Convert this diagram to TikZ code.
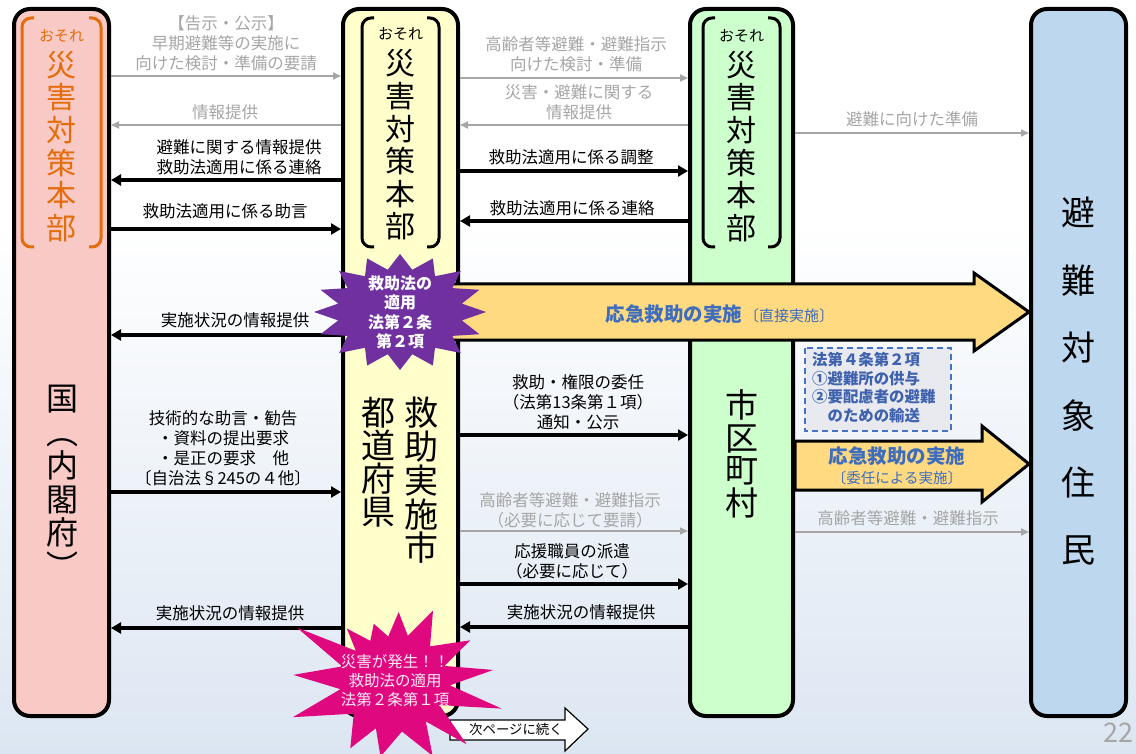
\documentclass[tikz,border=0pt]{standalone}
\usepackage{fontspec}
\setmainfont{Noto Sans CJK JP}
\usetikzlibrary{arrows.meta}
\definecolor{pinkc}{HTML}{F9C9C6}
\definecolor{yellc}{HTML}{FFFFCC}
\definecolor{greenc}{HTML}{CCFFCC}
\definecolor{bluec}{HTML}{BDD7EE}
\definecolor{orgc}{HTML}{E46C0A}
\definecolor{grayc}{HTML}{A6A6A6}
\definecolor{arrowy}{HTML}{FFDA80}
\definecolor{txtblue}{HTML}{3F6DBE}
\definecolor{boxblue}{HTML}{3F62AE}
\definecolor{dashblue}{HTML}{4472C4}
\definecolor{boxfill}{HTML}{E8EAEF}
\definecolor{purp}{HTML}{7030A0}
\definecolor{mag}{HTML}{E0087F}
\definecolor{bgblue}{HTML}{DCE6F2}
\begin{document}
\begin{tikzpicture}[x=1pt,y=-1pt,
  col/.style={draw=black, line width=4pt, rounded corners=16pt, inner sep=0pt},
  blk/.style={draw=black, line width=3.2pt, -{Triangle[length=10pt,width=11pt]}},
  gry/.style={draw=grayc, line width=1.8pt, -{Triangle[length=8pt,width=7pt]}},
  lbl/.style={font=\fontsize{16.5}{20}\selectfont, align=center, inner sep=0pt},
  lblg/.style={lbl, text=grayc},
  brk/.style={line width=3pt, rounded corners=9pt},
  vtxt/.style={align=center, inner sep=0pt},
  osore/.style={font=\fontsize{15}{15}\selectfont, inner sep=0pt},
  hq/.style={vtxt, font=\fontsize{30}{32.6}\selectfont},
  bigarrow/.style={fill=arrowy, draw=black, line width=3pt, line join=miter},
]
\useasboundingbox (0,0) rectangle (1136,754);
\begin{scope}
\clip (0,0) rectangle (1136,754);
\fill[white] (0,0) rectangle (1136,754);
\shade[top color=white, bottom color=bgblue] (0,220) rectangle (1136,754);

% columns
\node[col, fill=pinkc, minimum width=95pt, minimum height=707pt] (kuni) at (61.5,362.5) {};
\node[col, fill=yellc, minimum width=115pt, minimum height=707pt] (pref) at (400.5,362.5) {};
\node[col, fill=greenc, minimum width=103pt, minimum height=707pt] (muni) at (741.5,362.5) {};
\node[col, fill=bluec, minimum width=95pt, minimum height=707pt] (res) at (1078.5,362.5) {};

% brackets
\draw[brk, orgc] (34,18) -- (22,18) -- (22,247) -- (34,247);
\draw[brk, orgc] (89,18) -- (101,18) -- (101,247) -- (89,247);
\draw[brk] (374,18) -- (362,18) -- (362,247) -- (374,247);
\draw[brk] (427,18) -- (439,18) -- (439,247) -- (427,247);
\draw[brk] (715,18) -- (703,18) -- (703,247) -- (715,247);
\draw[brk] (768,18) -- (780,18) -- (780,247) -- (768,247);

% column texts
\node[osore, text=orgc] (os1) at (61.5,36) {おそれ};
\node[hq, text=orgc] (hq1) at (61.5,146.5) {災\\害\\対\\策\\本\\部};
\node[osore] (os2) at (400.5,34) {おそれ};
\node[hq] (hq2) at (400.5,145) {災\\害\\対\\策\\本\\部};
\node[osore] (os3) at (741.5,36) {おそれ};
\node[hq] (hq3) at (741.5,146.5) {災\\害\\対\\策\\本\\部};
\node[vtxt, font=\fontsize{32}{33.5}\selectfont] (kunitxt) at (62,482) {国\\︵\\内\\閣\\府\\︶};
\node[vtxt, font=\fontsize{34}{33}\selectfont] (todo) at (378,462.5) {都\\道\\府\\県};
\node[vtxt, font=\fontsize{34}{33.7}\selectfont] (kyujo) at (421,480.5) {救\\助\\実\\施\\市};
\node[vtxt, font=\fontsize{33}{32.7}\selectfont] (shiku) at (741.5,454) {市\\区\\町\\村};
\node[vtxt, font=\fontsize{34}{67.4}\selectfont] (jumin) at (1078.5,381.5) {避\\難\\対\\象\\住\\民};

% arrows: kuni <-> pref
\draw[gry] (kuni.east |- 0,76) -- (pref.west |- 0,76);
\node[lblg] (a1) at (226,43) {【告示・公示】\\早期避難等の実施に\\向けた検討・準備の要請};
\draw[gry] (pref.west |- 0,125) -- (kuni.east |- 0,125);
\node[lblg] (a2) at (225,112) {情報提供};
\draw[blk] (pref.west |- 0,180) -- (kuni.east |- 0,180);
\node[lbl] (a3) at (239,157) {避難に関する情報提供\\救助法適用に係る連絡};
\draw[blk] (kuni.east |- 0,229) -- (pref.west |- 0,229);
\node[lbl] (a4) at (225,211) {救助法適用に係る助言};
\draw[blk] (pref.west |- 0,335) -- (kuni.east |- 0,335);
\node[lbl] (a5) at (235,320) {実施状況の情報提供};
\draw[blk] (kuni.east |- 0,492) -- (pref.west |- 0,492);
\node[lbl] (a6) at (223,448) {技術的な助言・勧告\\・資料の提出要求\\・是正の要求\quad 他\\〔自治法§245の４他〕};
\draw[blk] (pref.west |- 0,628) -- (kuni.east |- 0,628);
\node[lbl] (a7) at (230,613) {実施状況の情報提供};

% arrows: pref <-> muni
\draw[gry] (pref.east |- 0,78) -- (muni.west |- 0,78);
\node[lblg] (b1) at (576,54) {高齢者等避難・避難指示\\向けた検討・準備};
\draw[gry] (muni.west |- 0,125) -- (pref.east |- 0,125);
\node[lblg] (b2) at (579,102) {災害・避難に関する\\情報提供};
\draw[blk] (pref.east |- 0,171) -- (muni.west |- 0,171);
\node[lbl] (b3) at (571,157) {救助法適用に係る調整};
\draw[blk] (muni.west |- 0,221) -- (pref.east |- 0,221);
\node[lbl] (b4) at (572,208) {救助法適用に係る連絡};
\draw[blk] (pref.east |- 0,435) -- (muni.west |- 0,435);
\node[lbl] (b5) at (578,402) {救助・権限の委任\\（法第13条第１項）\\通知・公示};
\draw[gry] (pref.east |- 0,531) -- (muni.west |- 0,531);
\node[lblg] (b6) at (570,510) {高齢者等避難・避難指示\\（必要に応じて要請）};
\draw[blk] (pref.east |- 0,584) -- (muni.west |- 0,584);
\node[lbl] (b7) at (572,561) {応援職員の派遣\\（必要に応じて）};
\draw[blk] (muni.west |- 0,627) -- (pref.east |- 0,627);
\node[lbl] (b8) at (581,612) {実施状況の情報提供};

% arrows: muni -> res
\draw[gry] (muni.east |- 0,133) -- (res.west |- 0,133);
\node[lblg] (c1) at (912,119) {避難に向けた準備};
\draw[gry] (muni.east |- 0,532) -- (res.west |- 0,532);
\node[lblg] (c2) at (908,518) {高齢者等避難・避難指示};

% big yellow arrows
\draw[bigarrow] (445,284) -- (974,284) -- (974,273) -- (res.west |- 0,312) -- (974,351) -- (974,340) -- (445,340) -- cycle;
\node[inner sep=0pt, text=txtblue] (big1) at (720,314) {{\fontsize{19.5}{20}\selectfont\bfseries 応急救助の実施}\,{\fontsize{15}{16}\selectfont 〔直接実施〕}};
\draw[bigarrow] (muni.east |- 0,441) -- (982,441) -- (982,426) -- (res.west |- 0,464) -- (982,502) -- (982,490) -- (muni.east |- 0,490) -- cycle;
\node[inner sep=0pt, text=txtblue, font=\fontsize{19.5}{22}\selectfont\bfseries] (big2) at (897,456) {応急救助の実施};
\node[inner sep=0pt, text=txtblue, font=\fontsize{14.5}{16}\selectfont] (big2b) at (897,478) {〔委任による実施〕};

% dashed box
\draw[dashblue, line width=2.2pt, dash pattern=on 6pt off 4pt, fill=boxfill] (805,348) rectangle (951,431);
\node[anchor=north west, align=left, inner sep=0pt, text=boxblue, font=\fontsize{15.4}{18.5}\selectfont\bfseries] (box) at (812,352) {法第４条第２項\\①避難所の供与\\②要配慮者の避難\\\hspace*{1em}のための輸送};

% purple star
\begin{scope}[shift={(400,312)}]
\fill[purp] (0:86 and 58) \foreach \k in {0,...,15}{ -- ({\k*22.5+11.25}:63 and 43) -- ({(\k+1)*22.5}:86 and 58)} -- cycle;
\end{scope}
\node[vtxt, text=white, font=\fontsize{16}{19.5}\selectfont\bfseries] (pstar) at (400,312.5) {救助法の\\適用\\法第２条\\第２項};

% next page arrow
\draw[fill=white, line width=1.2pt] (450,720) -- (565,720) -- (565,708) -- (588,729) -- (565,751) -- (565,740) -- (450,740) -- cycle;
\node[inner sep=0pt, font=\fontsize{13.4}{14}\selectfont] (next) at (516,729) {次ページに続く};

% magenta star
\begin{scope}[shift={(395,682)}]
\fill[mag] (14:110) -- (27.5:50) -- (41:95) -- (52:50) -- (63:83) -- (82:50) -- (101:76) -- (112.5:50) -- (124:80) -- (142.5:52) -- (161:108) -- (172.5:55) -- (184:102) -- (196.5:55) -- (209:112) -- (218.5:50) -- (228:72) -- (239:48) -- (250:62) -- (261.5:46) -- (273:70) -- (285.5:48) -- (298:81) -- (314.5:50) -- (331:86) -- (342:52) -- (353:99) -- (3.5:55) -- cycle;
\end{scope}
\node[vtxt, text=white!92!mag, font=\fontsize{15.5}{19}\selectfont] (mstar) at (395,681) {災害が発生！！\\救助法の適用\\法第２条第１項};

% page number
\node[inner sep=0pt, text=grayc, font=\fontsize{27}{28}\selectfont] (pg) at (1118,733) {22};
\end{scope}
\end{tikzpicture}
\end{document}
